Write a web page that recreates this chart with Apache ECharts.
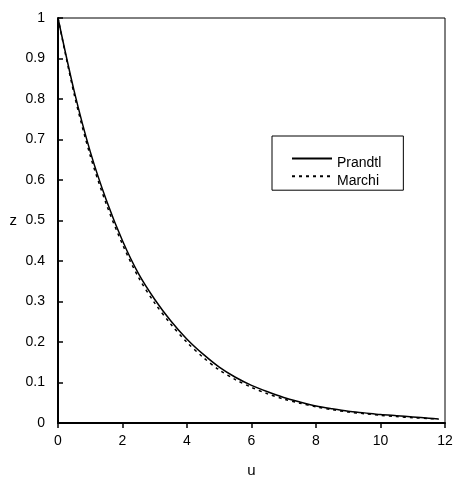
<!DOCTYPE html>
<html>
<head>
<meta charset="utf-8">
<script src="https://cdn.jsdelivr.net/npm/echarts@6/dist/echarts.min.js"></script>
<style>
html,body{margin:0;padding:0;background:#fff;}
#chart{width:453px;height:478px;}
</style>
</head>
<body>
<div id="chart"></div>
<script>
var uValues = [0, 0.5, 1, 1.5, 2, 2.5, 3, 3.5, 4, 4.5, 5, 5.5, 6, 6.5, 7, 7.5, 8, 8.5, 9, 9.5, 10, 10.5, 11, 11.5, 11.8];
var prandtl = [1.0, 0.82, 0.67, 0.55, 0.45, 0.368, 0.305, 0.252, 0.207, 0.170, 0.138, 0.113, 0.093, 0.077, 0.063, 0.052, 0.042, 0.035, 0.029, 0.025, 0.021, 0.018, 0.015, 0.012, 0.010];
var marchi  = [1.0, 0.812, 0.66, 0.54, 0.441, 0.359, 0.296, 0.244, 0.199, 0.162, 0.131, 0.107, 0.088, 0.072, 0.059, 0.049, 0.040, 0.033, 0.027, 0.023, 0.019, 0.016, 0.013, 0.011, 0.009];
var seriesNames = ['Prandtl', 'Marchi'];
var xTicks = {min: 0, max: 12, interval: 2};
var yTicks = {min: 0, max: 1, interval: 0.1};

function pairs(xs, ys){ return xs.map(function(x,i){ return [x, ys[i]]; }); }

var font = 'Liberation Sans, Arial, sans-serif';
var chart = echarts.init(document.getElementById('chart'), null, {renderer:'canvas'});
chart.setOption({
  animation: false,
  backgroundColor: '#fff',
  grid: {left: 58, right: 8, top: 18, bottom: 55, show: true, borderColor: '#000', borderWidth: 1, backgroundColor: 'transparent', outerBoundsMode: 'none', containLabel: false},
  legend: {
    show: true,
    orient: 'vertical',
    left: 272, top: 136,
    padding: [17, 22, 2, 19],
    borderColor: '#000', borderWidth: 1,
    itemWidth: 40, itemHeight: 14, itemGap: 0,
    itemStyle: {opacity: 0},
    data: seriesNames,
    formatter: function (name) { return '{t|' + name + '}'; },
    textStyle: {fontFamily: font, fontSize: 14, color: '#000',
      rich: {t: {fontFamily: font, fontSize: 14, color: '#000', padding: [10, 0, 0, 0]}}}
  },
  xAxis: {
    type: 'value', min: xTicks.min, max: xTicks.max, interval: xTicks.interval,
    name: 'u', nameLocation: 'middle', nameGap: 40,
    nameTextStyle: {fontFamily: font, fontSize: 15, color: '#000'},
    axisLine: {show: true, onZero: false, lineStyle: {color: '#000', width: 2}},
    axisTick: {show: true, inside: false, length: 5, lineStyle: {color: '#000', width: 1.5}},
    axisLabel: {fontFamily: font, fontSize: 14, color: '#000', margin: 11},
    splitLine: {show: false}
  },
  yAxis: {
    type: 'value', min: yTicks.min, max: yTicks.max, interval: yTicks.interval,
    name: 'z', nameLocation: 'middle', nameGap: 41, nameRotate: 0,
    nameTextStyle: {fontFamily: font, fontSize: 15, color: '#000'},
    axisLine: {show: true, onZero: false, lineStyle: {color: '#000', width: 2}},
    axisTick: {show: true, inside: true, length: 5, lineStyle: {color: '#000', width: 1.5}},
    axisLabel: {fontFamily: font, fontSize: 14, color: '#000', margin: 13},
    splitLine: {show: false}
  },
  series: [
    {name: seriesNames[0], type: 'line', data: pairs(uValues, prandtl), smooth: 0.3, showSymbol: false, symbol: 'none',
     lineStyle: {color: '#000', width: 1.5, type: 'solid'}, itemStyle: {color: '#000'}, z: 3},
    {name: seriesNames[1], type: 'line', data: pairs(uValues, marchi), smooth: 0.3, showSymbol: false, symbol: 'none',
     lineStyle: {color: '#000', width: 1.5, type: [3, 4]}, itemStyle: {color: '#000'}, z: 2}
  ]
});
</script>
</body>
</html>
